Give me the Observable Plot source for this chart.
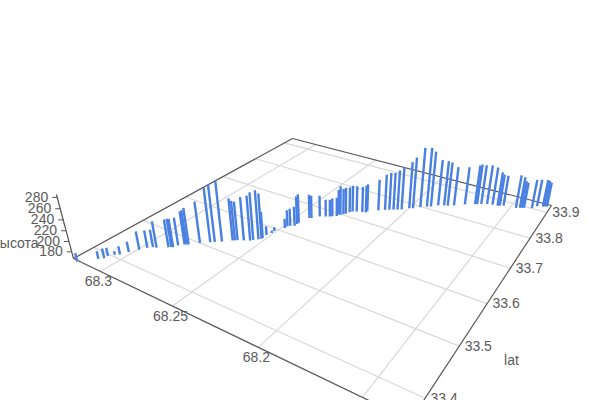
<!DOCTYPE html>
<html><head><meta charset="utf-8">
<script src="https://cdn.jsdelivr.net/npm/d3@7"></script>
<script src="https://cdn.jsdelivr.net/npm/@observablehq/plot@0.6"></script>
<style>html,body{margin:0;padding:0;background:#fff}svg{display:block}</style></head><body><div id="c"></div>
<script>
const latTicks=[33.4,33.5,33.6,33.7,33.8,33.9], lngTicks=[68.2,68.25,68.3], lngGrid=[68.15,68.2,68.25,68.3], zTicks=[180,200,220,240,260,280];
const lngValues=[68.317,68.310,68.308,68.308,68.306,68.304,68.302,68.299,68.297,68.295,68.293,68.288,68.287,68.286,68.285,68.283,68.282,68.281,68.277,68.273,68.271,68.268,68.264,68.263,68.262,68.259,68.256,68.255,68.253,68.252,68.252,68.252,68.251,68.251,68.248,68.248,68.247,68.245,68.245,68.245,68.243,68.242,68.239,68.236,68.234,68.233,68.231,68.231,68.230,68.229,68.228,68.227,68.226,68.224,68.221,68.219,68.219,68.214,68.211,68.209,68.207,68.205,68.203,68.200,68.198,68.195,68.192,68.190,68.187,68.184,68.182,68.179,68.174,68.169,68.168,68.166,68.163,68.160,68.157,68.156,68.154,68.147,68.145,68.144,68.143,68.139,68.137,68.134,68.133,68.132];
const latValues=[33.361,33.383,33.389,33.396,33.404,33.409,33.421,33.434,33.445,33.451,33.453,33.464,33.467,33.468,33.476,33.484,33.485,33.487,33.500,33.511,33.515,33.522,33.534,33.536,33.539,33.544,33.549,33.553,33.559,33.563,33.566,33.576,33.586,33.593,33.610,33.617,33.621,33.625,33.632,33.637,33.660,33.662,33.674,33.679,33.683,33.686,33.691,33.697,33.698,33.703,33.706,33.714,33.719,33.723,33.727,33.729,33.734,33.747,33.755,33.760,33.764,33.768,33.772,33.784,33.787,33.798,33.806,33.810,33.821,33.827,33.829,33.836,33.850,33.861,33.863,33.868,33.873,33.876,33.877,33.880,33.883,33.887,33.891,33.893,33.895,33.902,33.913,33.918,33.920,33.922];
const heightValues=[183,182,186,183,174,183,187,203,201,201,218,221,222,222,221,231,234,238,247,271,277,284,249,244,242,251,254,259,262,255,219,185,172,175,186,200,202,206,223,225,215,213,210,202,202,204,205,218,226,219,221,219,221,220,219,223,223,231,240,243,243,248,254,262,271,288,287,280,261,259,257,247,245,248,250,248,248,245,237,232,230,235,231,223,220,226,223,223,221,217];
const A=[73,258],D=[410,420],C=[551,205],B=[292,138],VP=[332,1229];
const lngMax=68.321,lngMin=68.13,latMin=33.363,latMax=33.93,zBase=167,zTop=285,lambda=5.24e-4;
const [x0,y0]=A,[x1,y1]=D,[x2,y2]=C,[x3,y3]=B;
const dx1=x1-x2,dx2=x3-x2,sx=x0-x1+x2-x3,dy1=y1-y2,dy2=y3-y2,sy=y0-y1+y2-y3,den=dx1*dy2-dx2*dy1;
const g=(sx*dy2-dx2*sy)/den,h=(dx1*sy-sx*dy1)/den;
const a=x1-x0+g*x1,b=x3-x0+h*x3,c=x0,d=y1-y0+g*y1,e=y3-y0+h*y3,f=y0;
function proj(lng,lat,z){const u=(lngMax-lng)/(lngMax-lngMin),v=(lat-latMin)/(latMax-latMin),w=(z-zBase)*lambda,q=g*u+h*v+1-w;
 return [(a*u+b*v+c-w*VP[0])/q,(d*u+e*v+f-w*VP[1])/q];}
const seg=(p,q)=>({x1:p[0],y1:p[1],x2:q[0],y2:q[1]});
const bars=lngValues.map((lng,i)=>seg(proj(lng,latValues[i],zBase),proj(lng,latValues[i],heightValues[i])));
const grid=[...latTicks.map(t=>seg(proj(lngMin,t,zBase),proj(lngMax,t,zBase))),...lngGrid.map(t=>seg(proj(t,latMin,zBase),proj(t,latMax,zBase)))];
const edges=[seg(A,B),seg(B,C),seg(C,D),seg(D,A),seg(proj(lngMax,latMin,zBase),proj(lngMax,latMin,zTop))];
const zMarks=zTicks.map(t=>{const p=proj(lngMax,latMin,t);return {x1:p[0],y1:p[1],x2:p[0]-5,y2:p[1]};});
const tk=(arr,fn)=>arr.map(t=>{const p=fn(t);return {x:p[0],y:p[1],t:String(t)};});
const fontStyle={fontFamily:"'Liberation Sans',Arial,sans-serif",fontSize:14,fill:"#5a5a5a"};
const plot=Plot.plot({width:600,height:400,margin:0,x:{domain:[0,600],range:[0,600],axis:null},y:{domain:[0,400],range:[0,400],axis:null},style:{background:"#fff"},marks:[
 Plot.link(grid,{x1:"x1",y1:"y1",x2:"x2",y2:"y2",stroke:"#d8d8d8",strokeWidth:1.2}),
 Plot.link(edges,{x1:"x1",y1:"y1",x2:"x2",y2:"y2",stroke:"#555",strokeWidth:1.2}),
 Plot.link(zMarks,{x1:"x1",y1:"y1",x2:"x2",y2:"y2",stroke:"#555",strokeWidth:1}),
 Plot.link(bars,{x1:"x1",y1:"y1",x2:"x2",y2:"y2",stroke:"#4a80e2",strokeWidth:2.4}),
 Plot.text(tk(latTicks,t=>proj(lngMin,t,zBase)),{x:"x",y:"y",text:"t",dx:19,...fontStyle}),
 Plot.text(tk(lngTicks,t=>proj(t,latMin,zBase)),{x:"x",y:"y",text:"t",dx:-2,dy:10,...fontStyle}),
 Plot.text(tk(zTicks,t=>proj(lngMax,latMin,t)),{x:"x",y:"y",text:"t",dx:-9,textAnchor:"end",...fontStyle}),
 Plot.text([{x:511,y:360,t:"lat"},{x:15,y:243,t:"высота"}],{x:"x",y:"y",text:"t",...fontStyle})
]});
document.getElementById("c").appendChild(plot);
</script></body></html>
